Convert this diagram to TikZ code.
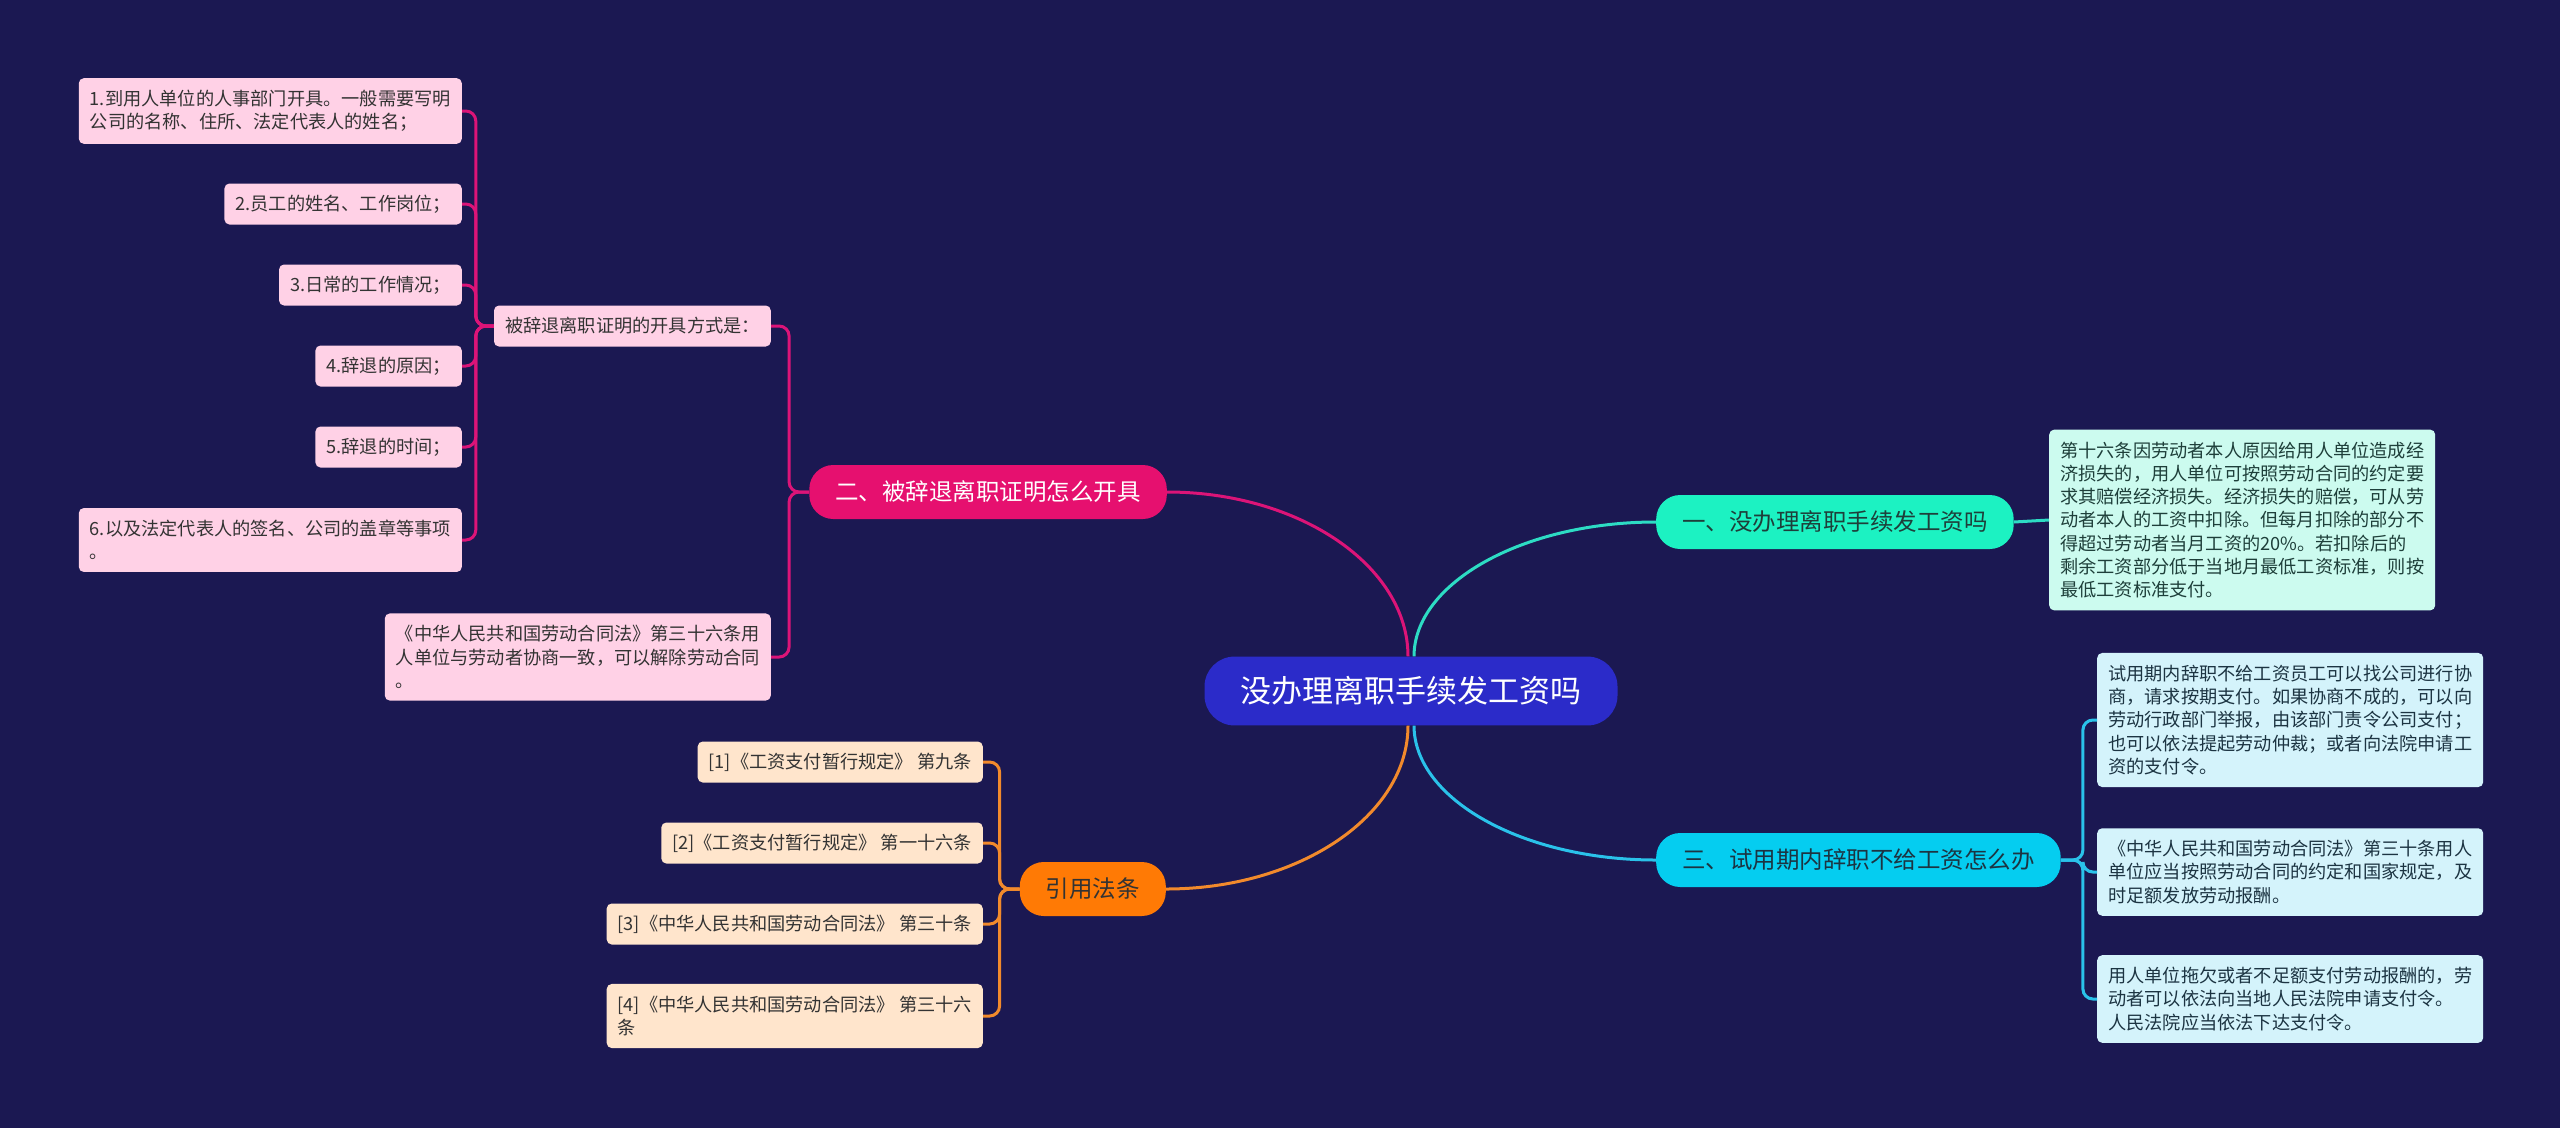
\documentclass[tikz,border=0pt]{standalone}
\usepackage{fontspec}
\setmainfont{Noto Sans CJK SC}
\usepackage{xcolor}
\usepackage{tikz}
\usetikzlibrary{positioning}
\definecolor{MapBg}{HTML}{1B1852}
\definecolor{RootBlue}{HTML}{2B2BC9}
\definecolor{MintMain}{HTML}{1CF2C2}
\definecolor{MintLine}{HTML}{2DDCC4}
\definecolor{MintLeaf}{HTML}{CCFBEF}
\definecolor{MintInk}{HTML}{1E3F3A}
\definecolor{PinkMain}{HTML}{E6106F}
\definecolor{PinkLine}{HTML}{DC1478}
\definecolor{PinkLeaf}{HTML}{FFD1E6}
\definecolor{CyanMain}{HTML}{05CDF0}
\definecolor{CyanLine}{HTML}{2AC2EA}
\definecolor{CyanLeaf}{HTML}{D4F3FB}
\definecolor{CyanInk}{HTML}{1C3442}
\definecolor{OrangeMain}{HTML}{FF7A05}
\definecolor{OrangeLine}{HTML}{F28A2C}
\definecolor{PeachLeaf}{HTML}{FFE5CC}
\definecolor{LeafInk}{HTML}{333333}
\newcommand{\leaffont}{\fontsize{18.2}{23.3}\selectfont}
\newcommand{\branchfont}{\fontsize{23.5}{28}\selectfont}
\tikzset{
  rootbox/.style={fill=RootBlue,rounded corners=30pt,inner xsep=36pt,inner ysep=20pt,
    text=white,font=\fontsize{31}{36}\selectfont},
  branchbox/.style={rounded corners=24pt,inner xsep=26pt,minimum height=54pt,font=\branchfont},
  mintbox/.style={branchbox,fill=MintMain,text=MintInk},
  pinkbox/.style={branchbox,fill=PinkMain,text=white},
  cyanbox/.style={branchbox,fill=CyanMain,text=CyanInk},
  orangebox/.style={branchbox,fill=OrangeMain,text=LeafInk},
  leaf/.style={rounded corners=5pt,inner xsep=11pt,inner ysep=12pt,align=left,
    text=LeafInk,font=\leaffont},
  shortleaf/.style={leaf,inner ysep=0pt,minimum height=41pt},
  mintleaf/.style={leaf,fill=MintLeaf,text=MintInk},
  pinkleaf/.style={leaf,fill=PinkLeaf},
  cyanleaf/.style={leaf,fill=CyanLeaf,text=CyanInk},
  peachleaf/.style={leaf,fill=PeachLeaf},
  flow/.style={line width=3pt,rounded corners=10pt},
  mintflow/.style={flow,draw=MintLine},
  pinkflow/.style={flow,draw=PinkLine},
  cyanflow/.style={flow,draw=CyanLine},
  orangeflow/.style={flow,draw=OrangeLine}
}

\begin{document}
\begin{tikzpicture}[x=1pt,y=-1pt]
  \fill[MapBg] (0,0) rectangle (2560,1128);
  \useasboundingbox (0,0) rectangle (2560,1128);

  % centre
  \node[rootbox] (root) at (1411,691) {没办理离职手续发工资吗};

  % right side
  \node[mintbox,anchor=west] (one) at (1656,522) {一、没办理离职手续发工资吗};
  \node[mintleaf,anchor=west] (oneA) at (2049,520) {第十六条因劳动者本人原因给用人单位造成经\\济损失的，用人单位可按照劳动合同的约定要\\求其赔偿经济损失。经济损失的赔偿，可从劳\\动者本人的工资中扣除。但每月扣除的部分不\\得超过劳动者当月工资的20\%。若扣除后的\\剩余工资部分低于当地月最低工资标准，则按\\最低工资标准支付。};
  \draw[mintflow] ([xshift=3pt]root.north) .. controls +(0,-73) and +(-134,0) .. (one.west);
  \draw[mintflow] (one.east) -- (oneA.west);

  \node[cyanbox,anchor=west] (three) at (1656,860) {三、试用期内辞职不给工资怎么办};
  \node[cyanleaf,anchor=west] (threeA) at (2097,720) {试用期内辞职不给工资员工可以找公司进行协\\商，请求按期支付。如果协商不成的，可以向\\劳动行政部门举报，由该部门责令公司支付；\\也可以依法提起劳动仲裁；或者向法院申请工\\资的支付令。};
  \node[cyanleaf,anchor=west] (threeB) at (2097,872) {《中华人民共和国劳动合同法》第三十条用人\\单位应当按照劳动合同的约定和国家规定，及\\时足额发放劳动报酬。};
  \node[cyanleaf,anchor=west] (threeC) at (2097,999) {用人单位拖欠或者不足额支付劳动报酬的，劳\\动者可以依法向当地人民法院申请支付令。\\人民法院应当依法下达支付令。};
  \draw[cyanflow] ([xshift=3pt]root.south) .. controls +(0,73) and +(-134,0) .. (three.west);
  \foreach \leafname in {threeA,threeB,threeC}
    \draw[cyanflow] (three.east) -- ++(22,0) |- (\leafname.west);

  % left side
  \node[pinkbox,anchor=east] (two) at (1167,492) {二、被辞退离职证明怎么开具};
  \node[pinkleaf,anchor=east] (howto) at (771,326) {被辞退离职证明的开具方式是：};
  \node[pinkleaf,anchor=east] (lawA) at (771,657) {《中华人民共和国劳动合同法》第三十六条用\\人单位与劳动者协商一致，可以解除劳动合同\\。};
  \draw[pinkflow] ([xshift=-3pt]root.north) .. controls +(0,-90) and +(133,0) .. (two.east);
  \foreach \leafname in {howto,lawA}
    \draw[pinkflow] (two.west) -- ++(-20,0) |- (\leafname.east);

  \node[pinkleaf,anchor=east] (s1) at (462,111) {1.到用人单位的人事部门开具。一般需要写明\\公司的名称、住所、法定代表人的姓名；};
  \node[pinkleaf,shortleaf,anchor=east] (s2) at (462,204) {2.员工的姓名、工作岗位；};
  \node[pinkleaf,shortleaf,anchor=east] (s3) at (462,285) {3.日常的工作情况；};
  \node[pinkleaf,shortleaf,anchor=east] (s4) at (462,366) {4.辞退的原因；};
  \node[pinkleaf,shortleaf,anchor=east] (s5) at (462,447) {5.辞退的时间；};
  \node[pinkleaf,anchor=east] (s6) at (462,540) {6.以及法定代表人的签名、公司的盖章等事项\\。};
  \foreach \i in {1,...,6}
    \draw[pinkflow] (howto.west) -- ++(-18,0) |- (s\i.east);

  \node[orangebox,anchor=east] (cite) at (1166,889) {引用法条};
  \node[peachleaf,shortleaf,anchor=east] (c1) at (983,762) {[1]《工资支付暂行规定》 第九条};
  \node[peachleaf,shortleaf,anchor=east] (c2) at (983,843) {[2]《工资支付暂行规定》 第一十六条};
  \node[peachleaf,shortleaf,anchor=east] (c3) at (983,924) {[3]《中华人民共和国劳动合同法》 第三十条};
  \node[peachleaf,anchor=east] (c4) at (983,1016) {[4]《中华人民共和国劳动合同法》 第三十六\\条};
  \draw[orangeflow] ([xshift=-3pt]root.south) .. controls +(0,90) and +(133,0) .. (cite.east);
  \foreach \i in {1,...,4}
    \draw[orangeflow] (cite.west) -- ++(-20,0) |- (c\i.east);
\end{tikzpicture}
\end{document}
